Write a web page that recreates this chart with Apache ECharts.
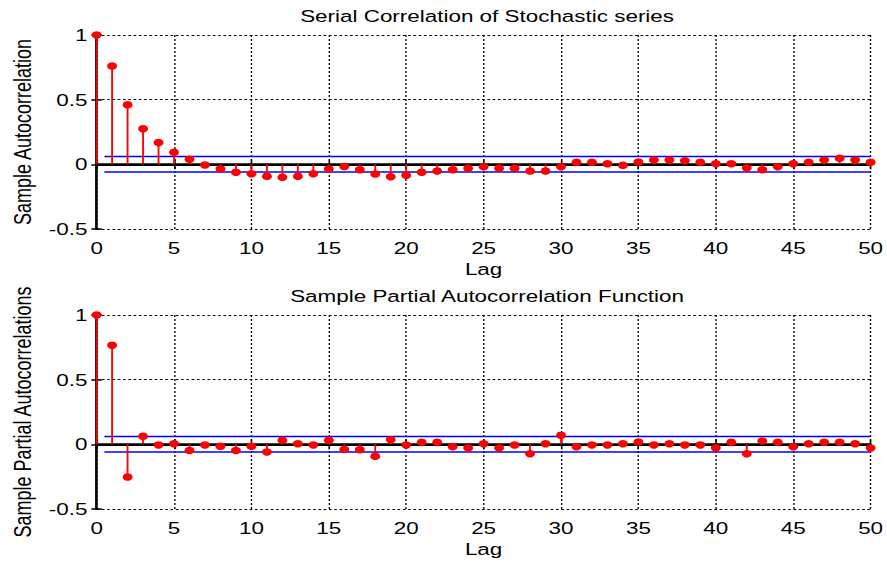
<!DOCTYPE html>
<html>
<head>
<meta charset="utf-8">
<script src="https://cdn.jsdelivr.net/npm/echarts@6/dist/echarts.min.js"></script>
<style>
html,body{margin:0;padding:0;background:#fff;overflow:hidden}
#wrap{width:887px;height:566px;overflow:hidden}
#c{width:672px;height:566px;transform:scaleX(1.32);transform-origin:0 0}
</style>
</head>
<body>
<div id="wrap"><div id="c"></div></div>
<script>
const lags = Array.from({length: 51}, (_, i) => i);
const acfValues = [1, 0.76, 0.46, 0.276, 0.168, 0.093, 0.039, -0.005, -0.036, -0.062,
  -0.072, -0.093, -0.10, -0.093, -0.072, -0.036, -0.017, -0.041, -0.075, -0.096,
  -0.085, -0.062, -0.052, -0.041, -0.031, -0.018, -0.031, -0.031, -0.052, -0.052,
  -0.018, 0.016, 0.016, 0.005, -0.008, 0.018, 0.034, 0.034, 0.028, 0.016,
  0.005, 0.005, -0.028, -0.041, -0.018, 0.005, 0.016, 0.034, 0.047, 0.034, 0.016];
const pacfValues = [1, 0.767, -0.253, 0.062, -0.005, 0.005, -0.047, -0.005, -0.015, -0.047,
  -0.015, -0.059, 0.031, 0.005, -0.005, 0.031, -0.039, -0.041, -0.093, 0.036,
  -0.005, 0.016, 0.016, -0.018, -0.028, 0.005, -0.028, -0.005, -0.072, 0.005,
  0.07, -0.018, -0.005, -0.005, 0.005, 0.018, -0.005, 0.005, -0.005, -0.005,
  -0.028, 0.016, -0.072, 0.026, 0.016, -0.018, 0.005, 0.016, 0.016, 0.005, -0.028];
const acfBound = 0.06;
const pacfBound = 0.06;
const xTicks = [0, 5, 10, 15, 20, 25, 30, 35, 40, 45, 50];
const yTicks = [-0.5, 0, 0.5, 1];
const titles = ['Serial Correlation of Stochastic series', 'Sample Partial Autocorrelation Function'];
const yNames = ['Sample Autocorrelation', 'Sample Partial Autocorrelations'];
const xName = 'Lag';

const FONT = 'Liberation Sans, Arial, sans-serif';
const chart = echarts.init(document.getElementById('c'), null, {renderer: 'svg'});

function xAxisFor(i) {
  return [{
    type: 'value', gridIndex: i, min: xTicks[0], max: xTicks[xTicks.length - 1], interval: 5,
    name: xName, nameLocation: 'middle', nameGap: 32,
    nameTextStyle: {fontFamily: FONT, fontSize: 17, color: '#000'},
    axisLine: {show: true, lineStyle: {color: '#000', width: 2}},
    axisTick: {show: true, inside: true, length: 5, lineStyle: {color: '#000', width: 1.2}},
    axisLabel: {fontFamily: FONT, fontSize: 17, color: '#000', margin: 11},
    splitLine: {show: true, lineStyle: {color: '#000', type: [2, 2], width: 1}}
  }, {
    type: 'value', gridIndex: i, min: 0, max: 50, interval: 5, position: 'top',
    axisLine: {show: true, lineStyle: {color: '#000', width: 2}},
    axisTick: {show: true, inside: true, length: 5, lineStyle: {color: '#000', width: 1.2}},
    axisLabel: {show: false}, splitLine: {show: false}
  }];
}
function yAxisFor(i) {
  return [{
    type: 'value', gridIndex: i, min: yTicks[0], max: yTicks[yTicks.length - 1], interval: 0.5,
    name: yNames[i], nameLocation: 'middle', nameGap: 45, nameRotate: 90,
    nameTextStyle: {fontFamily: FONT, fontSize: 18, color: '#000'},
    axisLine: {show: true, lineStyle: {color: '#000', width: 1.6}},
    axisTick: {show: true, inside: true, length: 4, lineStyle: {color: '#000', width: 1.5}},
    axisLabel: {fontFamily: FONT, fontSize: 17, color: '#000', margin: 7,
      formatter: v => String(v)},
    splitLine: {show: true, lineStyle: {color: '#000', type: [2, 2], width: 1}}
  }, {
    type: 'value', gridIndex: i, min: -0.5, max: 1, interval: 0.5, position: 'right',
    axisLine: {show: true, lineStyle: {color: '#000', width: 1.6}},
    axisTick: {show: true, inside: true, length: 4, lineStyle: {color: '#000', width: 1.5}},
    axisLabel: {show: false}, splitLine: {show: false}
  }];
}

function seriesFor(i, vals, bound) {
  const xi = i * 2, yi = i * 2;
  const data = lags.map((l, k) => [l, vals[k]]);
  return [
    {type: 'line', xAxisIndex: xi, yAxisIndex: yi, data: [[0, 0], [50, 0]],
      symbol: 'none', lineStyle: {color: '#000', width: 2}, silent: true, z: 3},
    {type: 'line', xAxisIndex: xi, yAxisIndex: yi, data: [[0.5, bound], [50, bound]],
      symbol: 'none', lineStyle: {color: '#0000ff', width: 1.5}, z: 4},
    {type: 'line', xAxisIndex: xi, yAxisIndex: yi, data: [[0.5, -bound], [50, -bound]],
      symbol: 'none', lineStyle: {color: '#0000ff', width: 1.5}, z: 4},
    {type: 'custom', xAxisIndex: xi, yAxisIndex: yi, data: data, z: 5,
      renderItem: (params, api) => {
        const p1 = api.coord([api.value(0), 0]);
        const p2 = api.coord([api.value(0), api.value(1)]);
        return {type: 'line', shape: {x1: p1[0], y1: p1[1], x2: p2[0], y2: p2[1]},
          style: {stroke: '#ff0000', lineWidth: 1.4}};
      }},
    {type: 'scatter', xAxisIndex: xi, yAxisIndex: yi, data: data, z: 6,
      symbol: 'circle', symbolSize: 7.5, itemStyle: {color: '#ff0000', opacity: 1}}
  ];
}

chart.setOption({
  animation: false,
  backgroundColor: '#fff',
  title: [
    {text: titles[0], left: 364, top: 3, textAlign: 'center',
      textStyle: {fontFamily: FONT, fontSize: 17, fontWeight: 'normal', color: '#000'}},
    {text: titles[1], left: 364, top: 283, textAlign: 'center',
      textStyle: {fontFamily: FONT, fontSize: 17, fontWeight: 'normal', color: '#000'}}
  ],
  grid: [
    {left: 71.2, right: 11.4, top: 35, bottom: 337},
    {left: 71.2, right: 11.4, top: 315, bottom: 57}
  ],
  xAxis: [...xAxisFor(0), ...xAxisFor(1)],
  yAxis: [...yAxisFor(0), ...yAxisFor(1)],
  series: [...seriesFor(0, acfValues, acfBound), ...seriesFor(1, pacfValues, pacfBound)]
});
</script>
</body>
</html>
